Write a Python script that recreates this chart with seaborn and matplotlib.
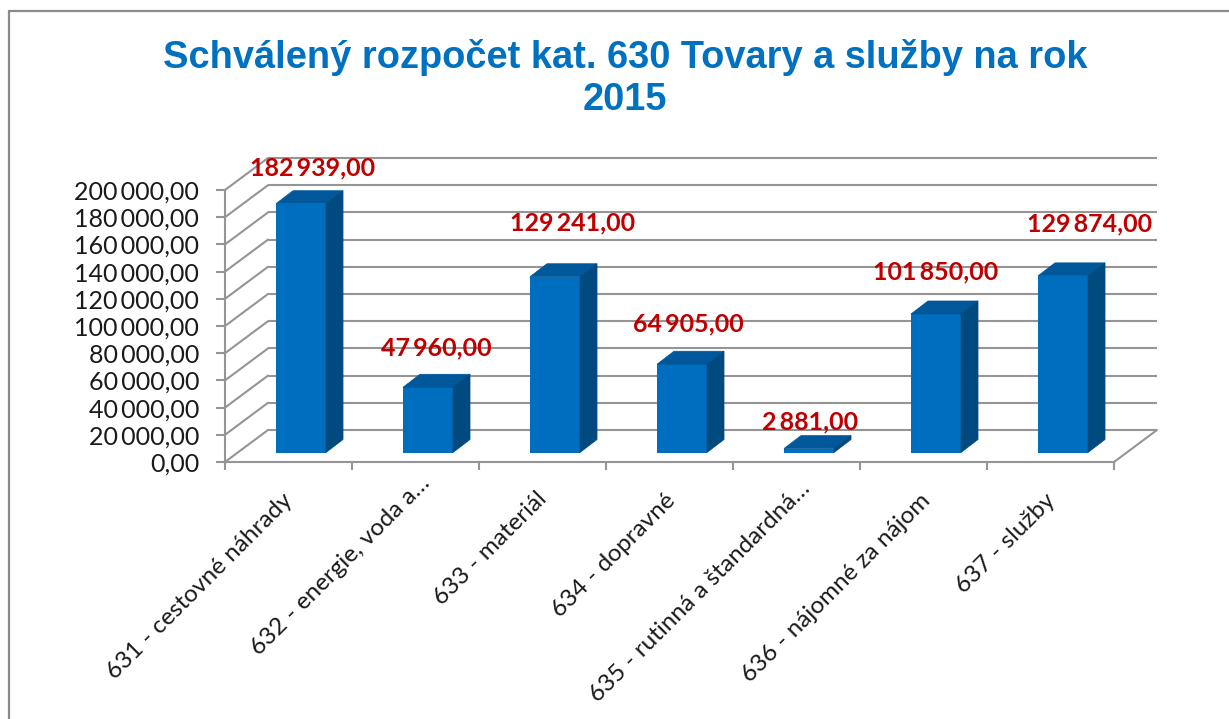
import pandas as pd
import seaborn as sns
import matplotlib.pyplot as plt
import numpy as np
from matplotlib.patches import Polygon, Rectangle
from matplotlib.transforms import Affine2D, IdentityTransform

# Data
categories = ['631 - cestovné náhrady', '632 - energie, voda a…', '633 - materiál', '634 - dopravné',
              '635 - rutinná a štandardná…', '636 - nájomné za nájom', '637 - služby']
amounts = [182939, 47960, 129241, 64905, 2881, 101850, 129874]
y_ticks = [0, 20000, 40000, 60000, 80000, 100000, 120000, 140000, 160000, 180000, 200000]
title = 'Schválený rozpočet kat. 630 Tovary a služby na rok\n2015'

# label offsets from the top of each bar, in pixels
label_dx = [12, 8, 18, 6, 1, 0, 27]
label_dy = [36, 39, 54, 40, 27, 42, 52]
# the shortened category labels sit a little further up the slope
cat_dx = [-7, 4, -7, -5, 3, -4, -6]
cat_dy = [0, 18, 2, 0, 12, 0, 0]

W, H = 1229, 719
GREY = '#959595'
FRONT, TOP, SIDE = '#006EBE', '#00589A', '#004A80'
LABEL_FONT = ['Lato', 'DejaVu Sans']


def money(v):
  return f'{v:,.2f}'.replace(',', '\u2009').replace('.', ',')


sns.set_theme(style='white')
plt.rcParams['font.family'] = LABEL_FONT

df = pd.DataFrame({'category': categories, 'amount': amounts})

fig = plt.figure(figsize=(W / 100, H / 100), dpi=100)
ax = fig.add_axes([225 / W, 1 - 462 / H, 889 / W, 272 / H])

sns.barplot(data=df, x='category', y='amount', color=FRONT, saturation=1, width=0.394, ax=ax, zorder=3)
ax.set_xlim(-0.5, 6.5)
ax.set_ylim(0, 200000)
ax.set_xlabel('')
ax.set_ylabel('')

# chart border, only left and top are inside the picture
fig.add_artist(Rectangle((8.5 / W, -0.1), 1.2, 1.1 - 11 / H, transform=fig.transFigure,
                         fill=False, edgecolor='#8a8a8a', linewidth=1.6))


def shifted(dx, dy):
  return ax.transData + Affine2D().translate(dx, dy)


# back wall and side wall lines
back_dx, back_dy = 43, 32
ax.hlines(y_ticks, -0.5, 6.5, color=GREY, linewidth=1.5, transform=shifted(back_dx, back_dy), clip_on=False, zorder=1)
for v in y_ticks:
  x0, y0 = ax.transData.transform((-0.5, v))
  ax.plot([x0, x0 + back_dx], [y0, y0 + back_dy], color=GREY, linewidth=1.5, transform=IdentityTransform(),
          clip_on=False, zorder=1)
x0, y0 = ax.transData.transform((6.5, 0))
ax.plot([x0, x0 + back_dx], [y0, y0 + back_dy], color=GREY, linewidth=1.5, transform=IdentityTransform(),
        clip_on=False, zorder=1)

# move the bars into the floor and add the 3D faces
front_dx, front_dy = 12.5, 9.5
depth_dx, depth_dy = 17, 13
for bar in ax.patches:
  bar.set_transform(shifted(front_dx, front_dy))
  bar.set_clip_on(False)
  bar.set_linewidth(0)
  left, right = bar.get_x(), bar.get_x() + bar.get_width()
  (xl, yt), (xr, yb) = ax.transData.transform([(left, bar.get_height()), (right, 0)])
  xl, xr = xl + front_dx, xr + front_dx
  yt, yb = yt + front_dy, yb + front_dy
  top = [(xl, yt), (xr, yt), (xr + depth_dx, yt + depth_dy), (xl + depth_dx, yt + depth_dy)]
  side = [(xr, yt), (xr + depth_dx, yt + depth_dy), (xr + depth_dx, yb + depth_dy), (xr, yb)]
  ax.add_patch(Polygon(top, closed=True, facecolor=TOP, edgecolor=TOP, linewidth=0.5, transform=IdentityTransform(),
                       clip_on=False, zorder=3))
  ax.add_patch(Polygon(side, closed=True, facecolor=SIDE, edgecolor=SIDE, linewidth=0.5, transform=IdentityTransform(),
                       clip_on=False, zorder=3))

# axes
for name in ['top', 'right']:
  ax.spines[name].set_visible(False)
for name in ['left', 'bottom']:
  ax.spines[name].set_color(GREY)
  ax.spines[name].set_linewidth(1.5)
ax.set_yticks(y_ticks)
ax.set_yticklabels([money(v) for v in y_ticks], fontsize=18, color='#1a1a1a')
ax.tick_params(axis='y', left=True, length=6.5, width=1.5, color=GREY, pad=12)
ax.set_xticks(np.arange(-0.5, 7), minor=True)
ax.tick_params(axis='x', which='minor', bottom=True, length=6, width=1.5, color=GREY)
ax.set_xticks(range(len(categories)))
ax.set_xticklabels(categories, fontsize=17.5, color='#1a1a1a', rotation=45, ha='right', rotation_mode='anchor')
ax.tick_params(axis='x', which='major', bottom=False, pad=14)
for i, lab in enumerate(ax.get_xticklabels()):
  lab.set_transform(lab.get_transform() + Affine2D().translate(cat_dx[i], cat_dy[i]))

# value labels
for i, v in enumerate(amounts):
  px = label_dx[i] + front_dx
  py = label_dy[i] + front_dy
  ax.annotate(money(v), (i, v), xytext=(px, py), textcoords='offset pixels', ha='center', va='center',
              fontsize=18, fontweight='bold', color='#C00000', annotation_clip=False, zorder=5)

fig.text(625 / W, 1 - 78.5 / H, title, ha='center', va='center', fontsize=27.4, fontweight='bold', color='#0070C0',
         family=['Liberation Sans', 'DejaVu Sans'], linespacing=1.24)

fig.savefig('out.png', dpi=100)
